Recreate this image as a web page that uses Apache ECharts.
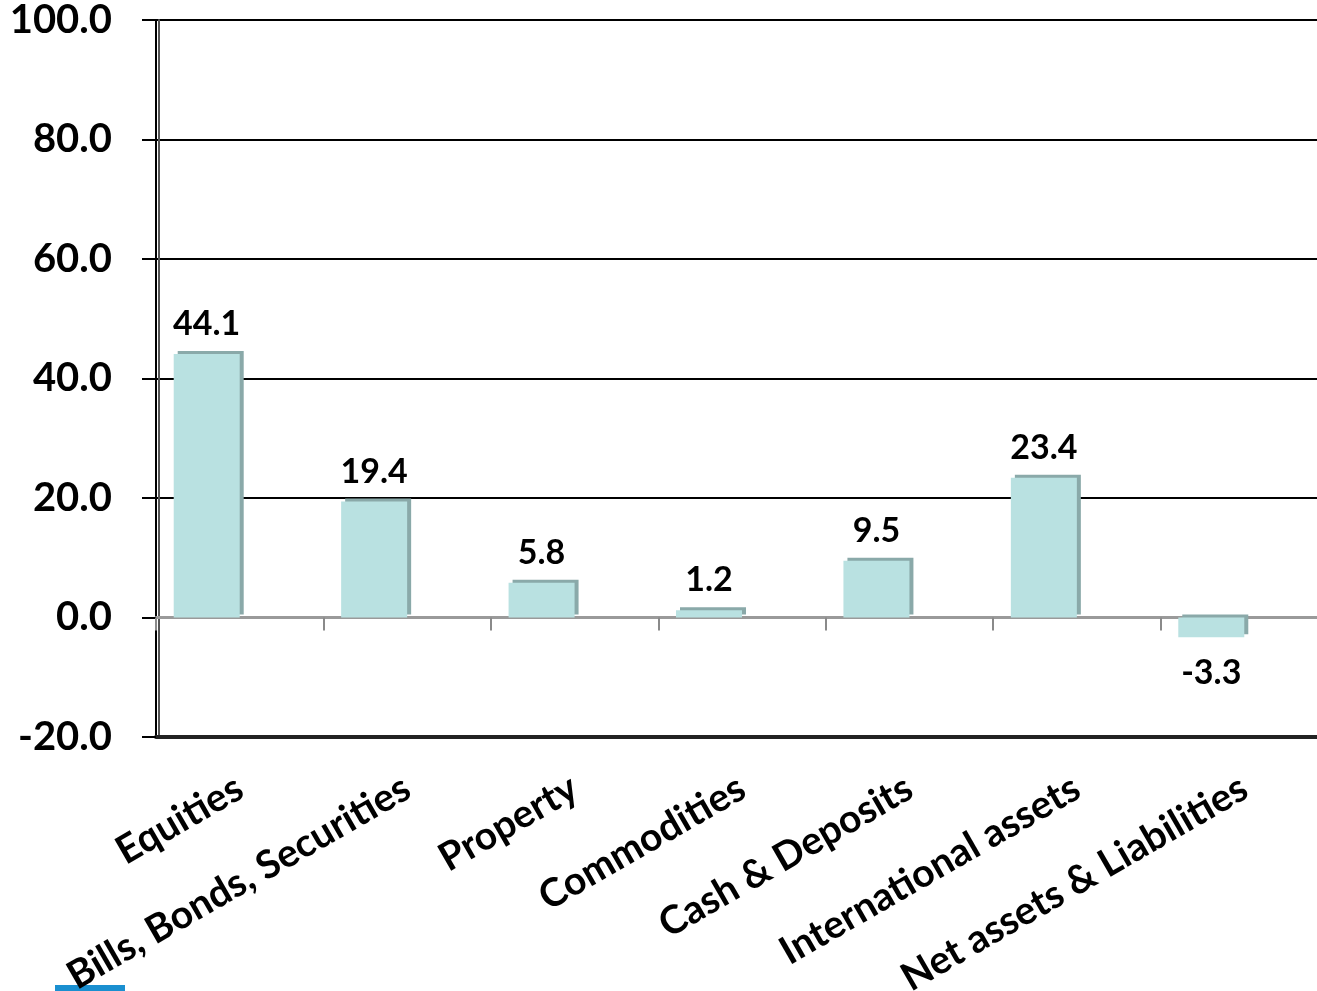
<!DOCTYPE html>
<html>
<head>
<meta charset="utf-8">
<script src="https://cdn.jsdelivr.net/npm/echarts@6/dist/echarts.min.js"></script>
<style>
    html, body { margin: 0; padding: 0; background: #fff; }
    #assetChart { width: 1317px; height: 991px; }
</style>
</head>
<body>
<div id="assetChart"></div>
<script>
// categories and values
var categories = ['Equities', 'Bills, Bonds, Securities', 'Property', 'Commodities',
    'Cash & Deposits', 'International assets', 'Net assets & Liabilities'];
var values = [44.1, 19.4, 5.8, 1.2, 9.5, 23.4, -3.3];
var yTicks = [-20, 0, 20, 40, 60, 80, 100];

var font = 'Lato';

var assetChart = echarts.init(document.getElementById('assetChart'));

// negative bars get their label underneath
var barData = values.map(function (v) {
    return {
        value: v,
        label: v < 0 ? { position: 'bottom', distance: 19 } : { position: 'top', distance: 13 }
    };
});

var option = {
    backgroundColor: '#fff',
    animation: false,
    grid: {
        // plot runs a little past the right edge, last category is cut off like in the original
        left: 156,
        width: 1172,
        top: 20,
        bottom: 254,
        outerBoundsMode: 'none'
    },
    xAxis: [
        {
            // the zero line with its grey ticks
            type: 'category',
            data: categories,
            axisLine: {
                onZero: true,
                lineStyle: { color: '#9a9a9a', width: 3 }
            },
            axisTick: {
                show: true,
                length: 13,
                lineStyle: { color: '#8a8a8a', width: 2 }
            },
            axisLabel: { show: false },
            splitLine: { show: false }
        },
        {
            // bottom floor with the rotated category names
            type: 'category',
            data: categories,
            position: 'bottom',
            axisLine: {
                onZero: false,
                lineStyle: { color: '#222', width: 4 }
            },
            axisTick: { show: false },
            axisLabel: {
                interval: 0,
                rotate: 30,
                margin: 48,
                color: '#000',
                fontFamily: font,
                fontWeight: 'bold',
                fontSize: 39
            }
        }
    ],
    yAxis: {
        type: 'value',
        min: yTicks[0],
        max: yTicks[yTicks.length - 1],
        interval: 20,
        axisLine: {
            show: true,
            lineStyle: {
                color: '#000',
                width: 2,
                shadowColor: '#555',
                shadowOffsetX: 3,
                shadowBlur: 0
            }
        },
        axisTick: {
            show: true,
            length: 14,
            lineStyle: { color: '#000', width: 2 }
        },
        axisLabel: {
            margin: 44,
            color: '#000',
            fontFamily: font,
            fontWeight: 'bold',
            fontSize: 40,
            formatter: function (v) { return v.toFixed(1); }
        },
        splitLine: {
            show: true,
            lineStyle: { color: '#000', width: 2 }
        }
    },
    series: [
        {
            name: 'value',
            type: 'bar',
            xAxisIndex: 0,
            barWidth: 66,
            barGap: '0%',
            data: barData,
            itemStyle: {
                color: '#b9e1e1',
                shadowColor: '#8aa9a9',
                shadowOffsetX: 4,
                shadowOffsetY: -3,
                shadowBlur: 0
            },
            label: {
                show: true,
                color: '#000',
                fontFamily: font,
                fontWeight: 'bold',
                fontSize: 34,
                formatter: function (p) { return p.value.toFixed(1); }
            }
        },
        {
            // empty partner series, pushes the real bars left of the band centre
            name: 'spacer',
            type: 'bar',
            xAxisIndex: 0,
            barWidth: 66,
            data: categories.map(function () { return '-'; })
        }
    ],
    graphic: [
        {
            type: 'rect',
            left: 55,
            top: 985,
            shape: { width: 70, height: 6 },
            style: { fill: '#1a8fd0' }
        }
    ]
};

assetChart.setOption(option);
</script>
</body>
</html>
